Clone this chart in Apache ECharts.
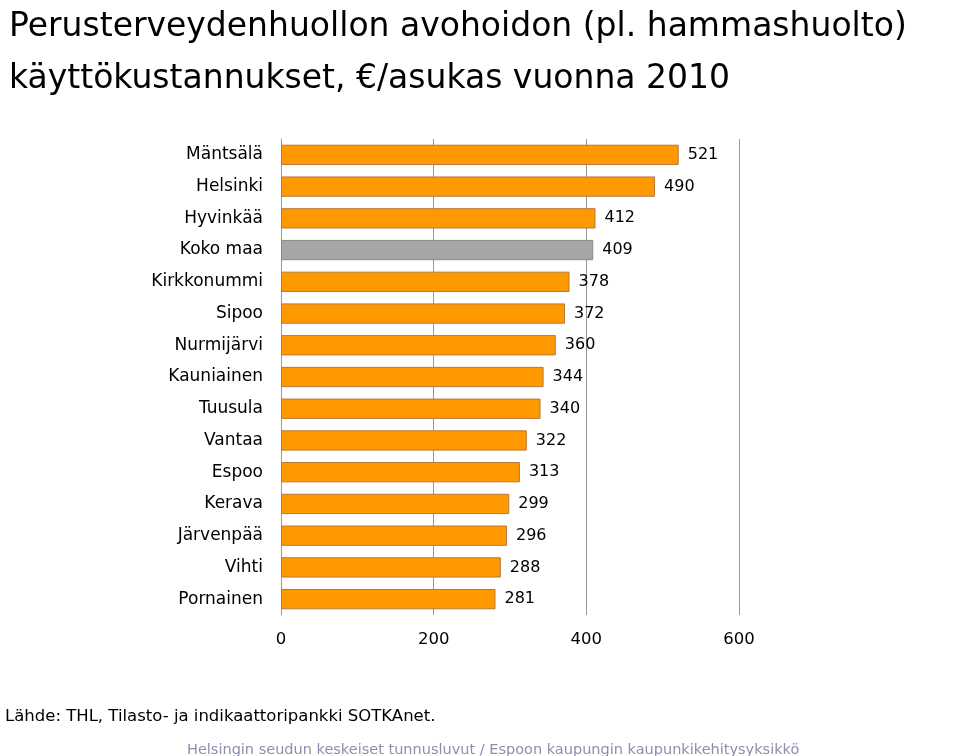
<!DOCTYPE html>
<html><head><meta charset="utf-8">
<script src="https://cdn.jsdelivr.net/npm/echarts@6/dist/echarts.min.js"></script>
<style>body{margin:0}#chart{width:960px;height:756px}</style>
</head><body><div id="chart"></div>
<script>
var cities = ['Mäntsälä','Helsinki','Hyvinkää','Koko maa','Kirkkonummi','Sipoo','Nurmijärvi','Kauniainen','Tuusula','Vantaa','Espoo','Kerava','Järvenpää','Vihti','Pornainen'];
var costs = [521,490,412,409,378,372,360,344,340,322,313,299,296,288,281];
var xTicks = [0,200,400,600];

var myChart = echarts.init(document.getElementById('chart'));
var option = {
    animation: false,
    textStyle: {fontFamily: 'DejaVu Sans'},
    title: [{
        text: 'Perusterveydenhuollon avohoidon (pl. hammashuolto)\nkäyttökustannukset, €/asukas vuonna 2010',
        left: 4, top: -4,
        textStyle: {fontSize: 33, fontWeight: 'normal', color: '#000', lineHeight: 52, fontFamily: 'DejaVu Sans'}
    }, {
        text: 'Lähde: THL, Tilasto- ja indikaattoripankki SOTKAnet.',
        left: 0, top: 703,
        textStyle: {fontSize: 16.5, fontWeight: 'normal', color: '#000', fontFamily: 'DejaVu Sans'}
    }, {
        text: 'Helsingin seudun keskeiset tunnusluvut / Espoon kaupungin kaupunkikehitysyksikkö',
        left: 182, top: 738,
        textStyle: {fontSize: 14.5, fontWeight: 'normal', color: '#8a8fb0', fontFamily: 'DejaVu Sans'}
    }],
    grid: {left: 281, right: 221, top: 139, bottom: 141},
    xAxis: {
        type: 'value', min: 0, max: 600, interval: 200,
        axisLine: {show: false},
        axisTick: {show: false},
        splitLine: {lineStyle: {color: '#999'}},
        axisLabel: {fontSize: 16.5, color: '#000', margin: 16,
            formatter: function (v) { return xTicks.indexOf(v) >= 0 ? v : ''; }}
    },
    yAxis: {
        type: 'category', data: cities, inverse: true,
        axisLine: {lineStyle: {color: '#999'}},
        axisTick: {length: 5, lineStyle: {color: '#999'}},
        axisLabel: {fontSize: 17, color: '#000', margin: 18}
    },
    series: [{
        type: 'bar',
        data: costs.map(function (v, i) {
            return {value: v, itemStyle: cities[i] === 'Koko maa' ?
                {color: '#a6a6a6', borderColor: '#8a8a8a'} : {color: '#ff9900', borderColor: '#b8783a'}};
        }),
        barCategoryGap: '36%',
        itemStyle: {borderWidth: 1},
        label: {show: true, position: 'right', distance: 9,
            fontSize: 16, color: '#000', fontFamily: 'DejaVu Sans'}
    }]
};
myChart.setOption(option);
</script>
</body></html>
